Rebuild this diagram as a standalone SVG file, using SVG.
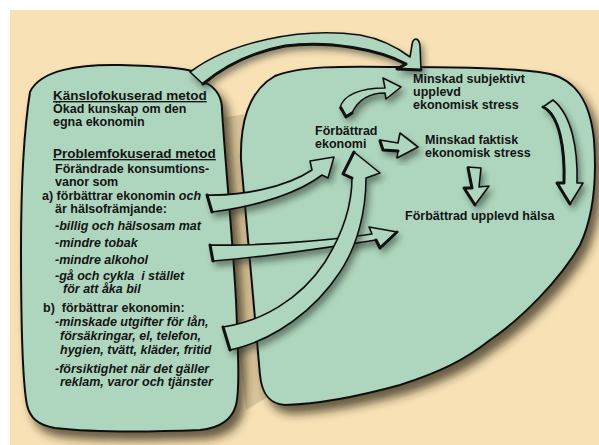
<svg xmlns="http://www.w3.org/2000/svg" width="599" height="445" viewBox="0 0 599 445">
<defs>
<filter id="shBig" x="-20%" y="-20%" width="140%" height="140%">
<feDropShadow dx="6" dy="8" stdDeviation="5" flood-color="#2a2410" flood-opacity="0.7"/>
</filter>
<filter id="shArrow" x="-30%" y="-30%" width="160%" height="160%">
<feDropShadow dx="3" dy="5" stdDeviation="3" flood-color="#1e2a20" flood-opacity="0.5"/>
</filter>
<style>
.blob{fill:#AED6BE;stroke:#111;stroke-width:2;stroke-linejoin:round}
.arr{fill:#AED6BE;stroke:#111;stroke-width:1.6;stroke-linejoin:round;filter:url(#shArrow)}
.edge{fill:none;stroke:#111;stroke-width:3;stroke-linecap:round;stroke-linejoin:round}
text{font-family:"Liberation Sans",Arial,sans-serif;font-weight:bold;fill:#141414;font-size:12.5px}
.h{font-size:13.5px;text-decoration:underline}
.i{font-style:italic}
</style>
</defs>
<rect x="0" y="0" width="599" height="445" fill="#ffffff"/>
<rect x="10" y="10" width="589" height="435" fill="#F8E1B5"/>

<path id="trunk" d="M221,118 L246,114 C250,200 258,300 266,398 L246,410 L236,330 Z" fill="#D8C49B"/>

<g id="outcome-area">
<path class="blob" filter="url(#shBig)" d="M241,160 C240,120 250,90 275,76 C300,66 340,66 400,67 C460,67 520,68 550,74 C575,80 590,100 594,140 C597,180 594,215 580,245 C560,280 520,320 490,340 C465,360 440,372 400,385 C360,396 320,404 285,405 C270,404 262,395 260,375 C256,330 250,260 241,160 Z"/>
</g>

<g id="method-box">
<path class="blob" filter="url(#shBig)" d="M30,92 C40,70 80,64 120,65 C160,66 185,68 195,72 L202,82 L208,84 C218,90 222,98 222,110 C225,160 232,230 236,300 C238,350 240,390 236,405 C232,420 220,428 200,430 C150,432 90,432 55,428 C38,425 30,418 27,405 C22,380 21,300 21,250 C21,180 24,130 30,92 Z"/>
<text class="h" x="53" y="100">Känslofokuserad metod</text>
<text x="53" y="113">Ökad kunskap om den</text>
<text x="53" y="126">egna ekonomin</text>
<text class="h" x="53" y="158">Problemfokuserad metod</text>
<text x="55" y="173">Förändrade konsumtions-</text>
<text x="55" y="186">vanor som</text>
<text x="42" y="200">a) förbättrar ekonomin <tspan class="i">och</tspan></text>
<text x="55" y="213">är hälsofrämjande:</text>
<text class="i" x="55" y="230">-billig och hälsosam mat</text>
<text class="i" x="55" y="247">-mindre tobak</text>
<text class="i" x="55" y="264">-mindre alkohol</text>
<text class="i" x="55" y="280" xml:space="preserve">-gå och cykla  i stället</text>
<text class="i" x="63" y="293">för att åka bil</text>
<text x="43" y="312" xml:space="preserve">b)  förbättrar ekonomin:</text>
<text class="i" x="55" y="326">-minskade utgifter för lån,</text>
<text class="i" x="60" y="340">försäkringar, el, telefon,</text>
<text class="i" x="60" y="354">hygien, tvätt, kläder, fritid</text>
<text class="i" x="55" y="373">-försiktighet när det gäller</text>
<text class="i" x="60" y="386">reklam, varor och tjänster</text>
</g>

<g id="connectors">
<path class="arr" d="M190,72 C230,42 300,27 360,35 C382,39 398,48 410,57 L412,45 C413,37 419,37 420,46 L421,70 L397,69 L406,64 C380,50 330,40 285,46 C248,53 222,68 203,84 Z"/>
<path class="edge" d="M421,70 L397,69 L406,64 C380,50 330,40 285,46 C248,53 222,68 203,84"/>
<path class="arr" d="M340,108 C343,95 360,88 385,88 L383,78 L401,87 L386,99 L385,93 C368,93 358,100 352,113 L346,116 Z"/>
<path class="edge" d="M352,113 L346,117 L341,108"/>
<path class="arr" d="M380,140 L398,143 L400,133 L418,147 L397,158 L398,151 L383,150 Z"/>
<path class="edge" d="M380,141 L383,150 L398,151"/>
<path class="arr" d="M468,167 L481,168 L479,187 L489,186 L475,205 L464,188 L472,188 Z"/>
<path class="edge" d="M468,168 L472,188 L464,188 L475,205"/>
<path class="arr" d="M543,107 C560,115 565,150 564,183 L557,183 L570,204 L583,183 L577,183 C578,150 572,115 553,100 Z"/>
<path class="edge" d="M543,107 C560,115 565,150 564,183 L557,183 L570,204"/>
<path class="arr" d="M207,195 C240,196 285,188 312,170 L310,161 L334,157 L328,178 L322,175 C300,192 260,206 212,212 Z"/>
<path class="edge" d="M207,195 L212,212"/>
<path class="arr" d="M210,245 C250,246 320,242 372,234 L369,227 L397,232 L380,248 L376,240 C330,247 270,257 213,261 Z"/>
<path class="edge" d="M210,245 L213,261 M397,232 L380,248 L376,240"/>
<path class="arr" d="M223,327 C260,322 300,300 325,262 C345,230 352,200 352,178 L343,174 L354,152 L380,173 L366,178 C366,210 358,245 340,272 C315,310 275,340 230,350 Z"/>
<path class="edge" d="M223,327 L230,350 M352,178 L343,174 L354,152"/>
</g>

<g id="node-ekonomi">
<text x="315" y="135">Förbättrad</text>
<text x="315" y="148">ekonomi</text>
</g>
<g id="node-subjektiv">
<text x="413" y="83">Minskad subjektivt</text>
<text x="413" y="96">upplevd</text>
<text x="413" y="109">ekonomisk stress</text>
</g>
<g id="node-faktisk">
<text x="425" y="144">Minskad faktisk</text>
<text x="425" y="157">ekonomisk stress</text>
</g>
<g id="node-halsa">
<text x="405" y="220">Förbättrad upplevd hälsa</text>
</g>
</svg>
